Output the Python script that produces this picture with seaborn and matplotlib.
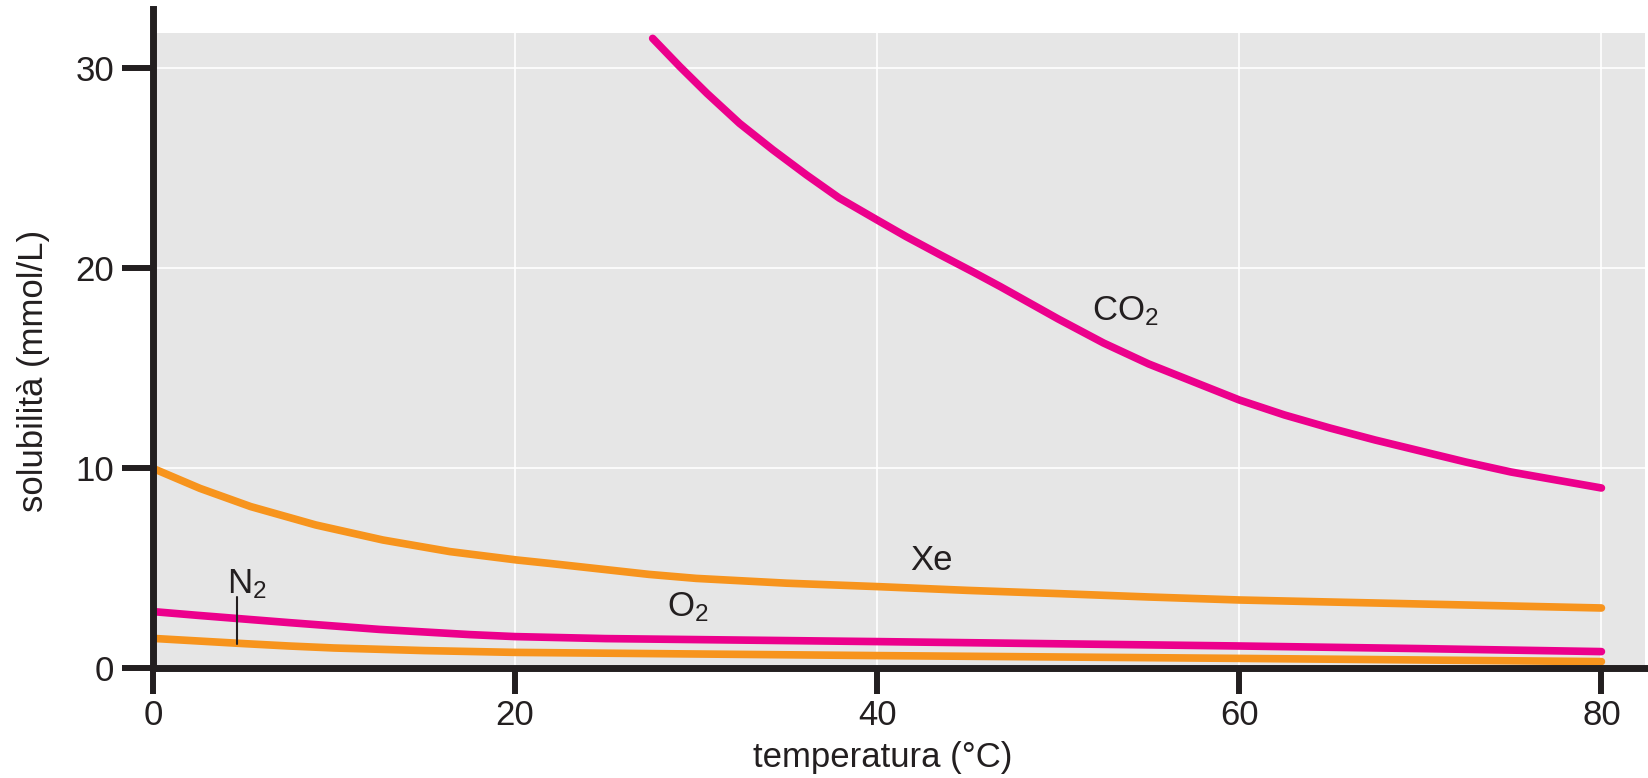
import pandas as pd
import matplotlib.pyplot as plt
import seaborn as sns

# solubilità dei gas in acqua in funzione della temperatura
co2_t = [27.6, 29.1, 30.6, 32.4, 34.25, 36.1, 37.9, 40, 41.6, 43.5, 45.3, 46.8,
         50, 52.5, 55, 57.5, 60, 62.5, 65, 67.5, 70, 72.5, 75, 77.5, 80]
co2_s = [31.48, 30.07, 28.73, 27.23, 25.9, 24.65, 23.5, 22.4, 21.57, 20.65, 19.8, 19.07,
         17.45, 16.25, 15.2, 14.3, 13.4, 12.65, 12.0, 11.4, 10.85, 10.3, 9.8, 9.4, 9.0]

xe_t = [0, 2.6, 5.4, 9, 12.7, 16.4, 20.1, 21.9, 25, 27.4, 30, 35, 40, 45, 50, 55,
        60, 65, 70, 75, 80]
xe_s = [9.98, 8.98, 8.07, 7.15, 6.4, 5.82, 5.4, 5.23, 4.92, 4.68, 4.48, 4.24, 4.07,
        3.88, 3.72, 3.55, 3.4, 3.3, 3.2, 3.1, 3.0]

o2_t = [0, 2.5, 5, 7.5, 10, 12.5, 15, 17.5, 20, 25, 30, 40, 50, 60, 70, 80]
o2_s = [2.82, 2.63, 2.45, 2.27, 2.1, 1.93, 1.8, 1.67, 1.57, 1.47, 1.42, 1.32,
        1.21, 1.1, 0.97, 0.82]

n2_t = [0, 2.5, 5, 7.5, 10, 15, 20, 30, 40, 50, 60, 70, 80]
n2_s = [1.48, 1.35, 1.22, 1.1, 1.0, 0.87, 0.78, 0.7, 0.62, 0.55, 0.48, 0.4, 0.32]

x_ticks = [0, 20, 40, 60, 80]
y_ticks = [0, 10, 20, 30]

pink = '#EC008C'
orange = '#F7941D'
ink = '#231F20'

frames = []
for gas, t, s in [('CO2', co2_t, co2_s), ('Xe', xe_t, xe_s),
                  ('O2', o2_t, o2_s), ('N2', n2_t, n2_s)]:
    frames.append(pd.DataFrame({'temperatura': t, 'solubilita': s, 'gas': gas}))
df = pd.concat(frames, ignore_index=True)

sns.set_theme(style='darkgrid', rc={'axes.facecolor': '#E6E6E6',
                                    'grid.color': 'white',
                                    'grid.linewidth': 1.2})
plt.rcParams['font.family'] = ['Liberation Sans', 'DejaVu Sans']
plt.rcParams['mathtext.default'] = 'regular'

fig = plt.figure(figsize=(16.48, 7.78), dpi=100)
ax = fig.add_axes([0.0928, 0.1414, 0.9053, 0.8162])

sns.lineplot(data=df, x='temperatura', y='solubilita', hue='gas',
             palette={'CO2': pink, 'Xe': orange, 'O2': pink, 'N2': orange},
             linewidth=5.5, legend=False, ax=ax,
             solid_capstyle='round', solid_joinstyle='round')

ax.set_xlim(0, 82.4)
ax.set_ylim(0, 31.75)
ax.set_xticks(x_ticks)
ax.set_yticks(y_ticks)

for side in ['top', 'right']:
    ax.spines[side].set_visible(False)
for side in ['left', 'bottom']:
    ax.spines[side].set_visible(True)
    ax.spines[side].set_color(ink)
    ax.spines[side].set_linewidth(5)
ax.spines['left'].set_bounds(0, 32.95)
ax.spines['left'].set_clip_on(False)

ax.tick_params(axis='both', colors=ink, labelcolor=ink, labelsize=25,
               width=4.3, bottom=True, left=True)
ax.tick_params(axis='x', length=19, pad=3)
ax.tick_params(axis='y', length=22, pad=6)

ax.set_xlabel('temperatura (°C)', fontsize=25, color=ink, va='baseline')
ax.xaxis.set_label_coords(0.489, -0.1554)
ax.set_ylabel('solubilità (mmol/L)', fontsize=25, color=ink, va='baseline')
ax.yaxis.set_label_coords(-0.0739, 0.468)

# etichette delle curve
ax.text(51.85, 17.4, 'CO$_2$', fontsize=25, color=ink, va='baseline')
ax.text(41.8, 4.9, 'Xe', fontsize=25, color=ink, va='baseline')
ax.text(28.4, 2.57, 'O$_2$', fontsize=25, color=ink, va='baseline')
ax.text(4.07, 3.73, 'N$_2$', fontsize=25, color=ink, va='baseline')
ax.plot([4.62, 4.62], [1.2, 3.57], color=ink, linewidth=1.5)

fig.savefig('out.png', dpi=100)
